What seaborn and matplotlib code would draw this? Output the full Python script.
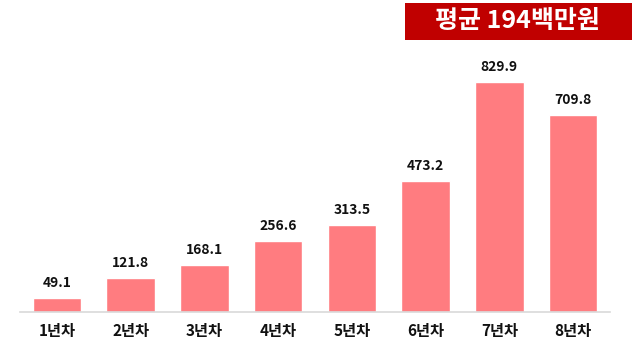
import matplotlib
matplotlib.use("Agg")
import matplotlib.pyplot as plt
from matplotlib.patches import Rectangle
import seaborn as sns
import pandas as pd

years = ["1년차", "2년차", "3년차", "4년차", "5년차", "6년차", "7년차", "8년차"]
values = [49.1, 121.8, 168.1, 256.6, 313.5, 473.2, 829.9, 709.8]
avg_label = "평균 194백만원"

sns.set_theme(style="white")
plt.rcParams['font.family'] = ['Noto Sans CJK KR', 'DejaVu Sans']

df = pd.DataFrame({"year": years, "value": values})

fig = plt.figure(figsize=(6.33, 3.56), dpi=100)
ax = fig.add_axes([20 / 633, 44 / 356, 590 / 633, 277 / 356])
sns.barplot(data=df, x="year", y="value", color="#FF7C80", saturation=1,
            width=0.66, ax=ax)
ax.set_xlim(-0.5, 7.5)
ax.set_ylim(0, 1000)
ax.set_xlabel("")
ax.set_ylabel("")
ax.set_yticks([])
for s in ["top", "right", "left"]:
    ax.spines[s].set_visible(False)
ax.spines["bottom"].set_color("#D9D9D9")
ax.spines["bottom"].set_linewidth(1.2)
ax.tick_params(axis="x", length=0, pad=8)
for lab in ax.get_xticklabels():
    lab.set_fontsize(11)
    lab.set_fontweight("bold")
    lab.set_color("#111111")

for i, v in enumerate(values):
    ax.annotate(f"{v:.1f}", (i, v), xytext=(0, 6), textcoords="offset points",
                ha="center", va="bottom", fontsize=10, fontweight="bold",
                color="#111111")

# average box in the top right corner
fig.patches.append(Rectangle((405 / 633, 1 - 40 / 356), 227 / 633, 37 / 356,
                             transform=fig.transFigure, facecolor="#C00000",
                             edgecolor="none"))
fig.text(517 / 633, 1 - 21 / 356, avg_label, ha="center", va="center",
         fontsize=18, fontweight="bold", color="white")

fig.savefig("out.png", dpi=100)
